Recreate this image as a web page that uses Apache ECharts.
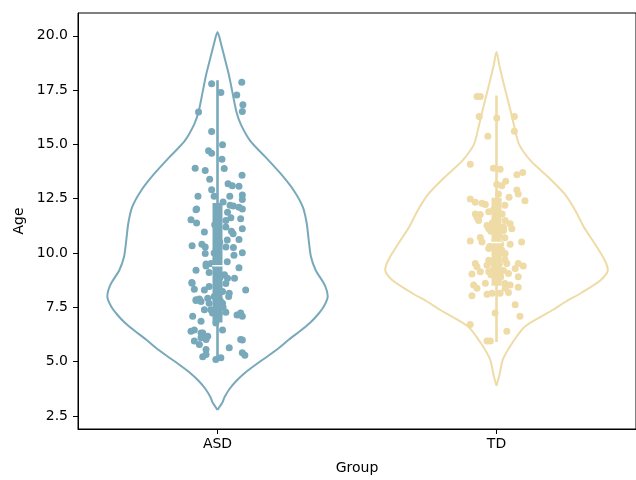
<!DOCTYPE html>
<html>
<head>
<meta charset="utf-8">
<script src="https://cdn.jsdelivr.net/npm/echarts@6/dist/echarts.min.js"></script>
<style>html,body{margin:0;padding:0;background:#fff;}#chart{width:636px;height:480px;}</style>
</head>
<body>
<div id="chart"></div>
<script>
// ---- data ----
const groups = ['ASD', 'TD'];
const groupColors = ['#78a9bb', '#eedba6'];
const yTicks = [2.5, 5.0, 7.5, 10.0, 12.5, 15.0, 17.5, 20.0];

// violin outline: age levels and half-widths (category units)
const asdViolinAge = [2.78,3.13,3.36,3.74,4.12,4.50,4.88,5.26,5.64,6.02,6.40,6.78,7.16,7.54,8.00,8.30,8.61,9.21,9.83,10.58,11.35,12.11,12.87,13.63,14.39,15.15,15.91,16.49,17.43,18.20,18.96,19.57,20.17];
const asdViolinWidth = [0,0.018,0.025,0.043,0.068,0.100,0.139,0.181,0.221,0.256,0.295,0.331,0.359,0.381,0.395,0.391,0.381,0.352,0.335,0.327,0.320,0.306,0.274,0.228,0.174,0.118,0.084,0.068,0.053,0.041,0.026,0.014,0];
const tdViolinAge = [3.89,4.35,5.10,5.87,6.63,7.39,7.77,8.15,8.76,9.21,9.67,10.43,11.20,11.95,12.72,13.48,14.24,15.00,15.76,16.52,17.28,18.05,18.65,19.26];
const tdViolinWidth = [0,0.010,0.023,0.057,0.103,0.203,0.249,0.302,0.374,0.399,0.388,0.352,0.313,0.283,0.244,0.187,0.123,0.081,0.065,0.051,0.036,0.021,0.010,0];

// inner box statistics
const boxMin = [5.10, 5.90];
const boxQ1 = [6.80, 8.50];
const boxMedian = [9.42, 10.48];
const boxQ3 = [12.30, 12.55];
const boxMax = [17.95, 17.25];

// strip points: [age, horizontal jitter in category units]
const asdStrip = [[17.79,-0.021],[17.39,0.012],[17.86,0.087],[17.28,0.069],[16.83,0.091],[16.52,0.089],[16.49,-0.068],[15.59,-0.021],[14.99,0.018],[14.71,-0.032],[14.59,-0.021],[14.32,0.016],[13.90,-0.080],[13.80,-0.044],[13.89,0.024],[13.40,-0.028],[13.58,0.088],[13.19,0.038],[13.10,0.053],[13.07,0.077],[12.91,-0.021],[12.61,-0.070],[12.61,-0.012],[12.61,0.044],[12.67,0.089],[12.46,0.089],[12.16,0.057],[12.11,0.077],[12.03,-0.075],[11.88,0.036],[12.03,0.089],
[11.53,-0.095],[11.38,-0.075],[11.62,0.048],[11.58,0.083],[11.12,0.089],[11.20,0.030],[10.97,-0.047],[10.89,0.056],[10.62,0.077],[10.33,-0.091],[10.40,-0.056],[10.28,-0.044],[10.28,0.030],[10.25,0.057],[10.01,0.089],[9.98,-0.044],[9.90,0.059],[9.21,-0.077],[9.40,-0.041],[9.32,0.077],[9.10,-0.030],[8.84,0.036],[8.61,-0.091],[8.33,-0.083],[8.30,-0.047],[8.23,0.018],[8.30,0.101],[8.15,0.042],[7.82,-0.077],[7.88,-0.065],[7.69,-0.030],[7.69,0.018],[7.39,-0.047],[7.24,-0.018],[7.27,0.030],[7.24,0.083],[7.09,-0.089],[7.09,0.089],[6.86,-0.059],[6.78,-0.006],[6.40,-0.095],[6.32,-0.053],[6.46,0.018],[5.95,-0.083],[6.02,-0.041],[6.02,0.083],[5.79,-0.065],[5.64,0.042],[5.56,-0.041],[5.41,0.089],[5.23,-0.053],[5.18,0.012],[5.10,-0.006],
[11.99,-0.077],[9.49,-0.041],[9.52,-0.024],[8.64,-0.092],[8.46,-0.030],[7.92,-0.035],[7.85,-0.077],[7.77,-0.059],[7.39,-0.024],[6.46,-0.083],[6.32,-0.059],[6.10,-0.059],[6.17,-0.035],[5.33,-0.041],
[12.20,0.045],[11.00,0.050],[10.60,0.035],[9.60,0.035],[9.00,0.025],[8.60,0.030],[8.00,0.040],[7.50,0.020],[11.50,0.030],[12.35,0.020],[6.00,0.089],[5.30,0.098],[7.15,0.070],[8.84,0.061],
[8.50,0.005],[9.40,-0.008],[10.50,0.008],[11.30,-0.010],[12.00,0.004],[7.80,0.010],[8.00,-0.012],[8.90,0.010],[9.70,-0.005],[7.20,0.006],[10.00,-0.012]];

const tdStrip = [[17.21,-0.070],[17.21,-0.058],[16.29,-0.062],[16.22,0.001],[16.29,0.064],[15.61,0.064],[15.38,-0.031],[14.09,-0.094],[13.90,-0.011],[13.86,0.013],[13.60,0.073],[13.71,0.094],[13.17,0.001],[13.30,0.033],[13.10,0.019],[12.72,0.007],[12.90,0.073],[12.72,0.078],[12.57,0.045],[12.41,0.102],[12.49,-0.094],[12.34,-0.076],[12.29,-0.052],[12.23,-0.040],[11.80,-0.076],[11.77,-0.058],
[11.65,-0.070],[11.50,-0.064],[11.27,-0.034],[11.12,-0.028],[11.50,0.031],[11.35,0.049],[11.12,0.055],[11.04,0.025],[10.56,-0.094],[10.71,-0.058],[10.51,-0.052],[10.40,0.049],[10.51,0.090],[10.21,-0.028],[10.13,0.019],[9.98,0.031],[9.52,-0.076],[9.37,-0.070],[9.67,-0.028],[9.44,-0.034],[9.52,0.037],[9.52,0.078],[9.40,0.096],[9.03,-0.088],[9.14,-0.058],[9.14,-0.028],[9.06,0.013],[9.06,0.043],[8.91,0.078],[9.29,0.067],[8.53,-0.082],[8.38,-0.070],[8.61,-0.040],[8.15,-0.016],[8.10,-0.034],[8.15,0.013],[8.18,0.043],[8.38,0.031],[8.53,0.049],[8.42,0.078],[8.03,-0.088],[7.62,0.067],[7.24,-0.005],[7.09,0.084],[6.71,-0.094],[6.40,0.037],[5.95,-0.034],[5.95,-0.022],
[12.40,0.005],[12.00,-0.010],[11.80,0.020],[11.60,0.000],[11.40,-0.015],[11.20,0.025],[11.00,-0.020],[10.80,0.010],[10.70,0.030],[10.60,-0.005],[10.40,0.015],[10.30,-0.025],[10.00,0.020],[9.80,0.000],[9.70,0.030],[9.60,-0.020],[9.50,0.010],[9.30,-0.010],[9.20,0.025],[9.00,-0.020],[8.90,0.015],[8.70,0.005],[8.60,0.030],[12.20,0.030],[11.90,-0.028]];

// ---- build chart ----
const violinAges = [asdViolinAge, tdViolinAge];
const violinWidths = [asdViolinWidth, tdViolinWidth];
const strips = [asdStrip, tdStrip];
const FONT = 'DejaVu Sans';

function violinPath(g) {
  const ages = violinAges[g], w = violinWidths[g];
  const pts = [];
  for (let i = 0; i < ages.length; i++) pts.push([g + w[i], ages[i]]);
  for (let i = ages.length - 1; i >= 0; i--) pts.push([g - w[i], ages[i]]);
  pts.push(pts[0]);
  return pts;
}

const series = [];
groups.forEach((name, g) => {
  const c = groupColors[g];
  series.push({
    type: 'line', data: violinPath(g), smooth: 0.25, showSymbol: false, silent: true,
    lineStyle: { color: c, width: 2 }, z: 2, animation: false
  });
  series.push({
    type: 'line', data: [[g, boxMin[g]], [g, boxMax[g]]], showSymbol: false, silent: true,
    lineStyle: { color: c, width: 2.6, cap: 'butt' }, z: 3, animation: false
  });
  series.push({
    type: 'line', data: [[g, boxQ1[g]], [g, boxQ3[g]]], showSymbol: false, silent: true,
    lineStyle: { color: c, width: 10, cap: 'butt' }, z: 3, animation: false
  });
  series.push({
    type: 'scatter', data: strips[g].map(p => [g + p[1], p[0]]), symbolSize: 7,
    itemStyle: { color: c, opacity: 1 }, z: 4, animation: false
  });
  series.push({
    type: 'line', data: [[g - 0.019, boxMedian[g]], [g + 0.019, boxMedian[g]]], showSymbol: false, silent: true,
    lineStyle: { color: '#ffffff', width: 1.5, cap: 'butt' }, z: 5, animation: false
  });
});

const chart = echarts.init(document.getElementById('chart'), null, { renderer: 'canvas' });
chart.setOption({
  backgroundColor: '#ffffff',
  animation: false,
  grid: { left: 78, top: 13, width: 562, height: 419, show: true, borderColor: '#000', borderWidth: 1, backgroundColor: 'transparent' },
  xAxis: {
    type: 'value', min: -0.5, max: 1.5,
    name: 'Group', nameLocation: 'middle', nameGap: 32,
    nameTextStyle: { fontFamily: FONT, fontSize: 14, color: '#000' },
    splitLine: { show: false },
    axisLine: { show: true, onZero: false, lineStyle: { color: '#000', width: 1 } },
    axisTick: { show: true, length: 5, lineStyle: { color: '#000', width: 1 }, customValues: [0, 1] },
    axisLabel: { customValues: [0, 1], margin: 8, fontFamily: FONT, fontSize: 14, color: '#000',
      formatter: v => groups[Math.round(v)] }
  },
  yAxis: {
    type: 'value', min: 1.9, max: 21.05,
    name: 'Age', nameLocation: 'middle', nameGap: 52,
    nameTextStyle: { fontFamily: FONT, fontSize: 14, color: '#000' },
    splitLine: { show: false },
    axisLine: { show: true, onZero: false, lineStyle: { color: '#000', width: 1 } },
    axisTick: { show: true, length: 5, lineStyle: { color: '#000', width: 1 }, customValues: yTicks },
    axisLabel: { customValues: yTicks, margin: 10, fontFamily: FONT, fontSize: 14, color: '#000',
      formatter: v => Number(v).toFixed(1) }
  },
  series: series
});
</script>
</body>
</html>
